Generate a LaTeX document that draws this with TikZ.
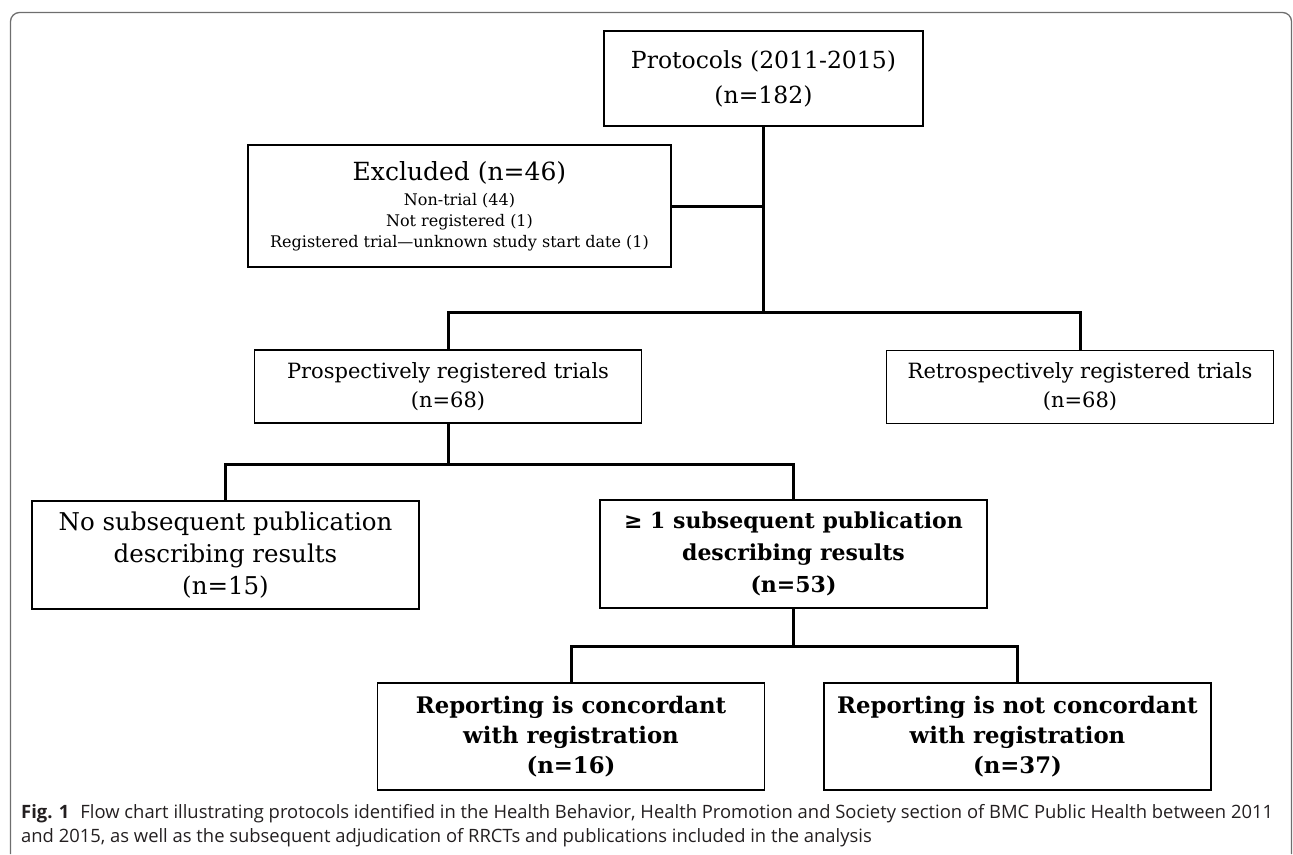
\documentclass[tikz,border=0pt]{standalone}
\usepackage{fontspec}
\setmainfont{DejaVu Serif}
\newfontfamily\capfont{Open Sans}
\definecolor{framegray}{HTML}{6E6E6E}
\definecolor{captext}{HTML}{231F20}
\begin{document}
\begin{tikzpicture}[x=1pt,y=-1pt,
    flowbox/.style={draw, line width=1.8pt, align=center, inner sep=0pt, font=\fontsize{21}{29}\selectfont},
    boldbox/.style={flowbox, font=\fontsize{22}{32}\selectfont\bfseries},
    elbow/.style={line width=3pt},
    frameline/.style={draw=framegray, line width=1.3pt, rounded corners=9pt},
    captionline/.style={anchor=base west, inner sep=0pt, text=captext, font=\capfont\fontsize{18.4}{24}\selectfont}]
    		\newcommand{\colw}{387} % width of the lower boxes
    		\newcommand{\barA}{312}
    		\newcommand{\barB}{464}
    		\newcommand{\barC}{646}

    		\useasboundingbox (0,0) rectangle (1293,854);

    		% outer frame
    		\draw[frameline] (10.5,854) -- (10.5,12.5) -- (1291.5,12.5) -- (1291.5,854);

    		% boxes
    		\node[flowbox, minimum width=319, minimum height=95, font=\fontsize{23.5}{35}\selectfont] (proto) at (763.5,78.5)
    		    {Protocols (2011-2015)\\(n=182)};
    		\node[flowbox, minimum width=423, minimum height=122, font=\fontsize{16}{21}\selectfont] (excl) at (459.5,206)
    		    {{\fontsize{25}{25}\selectfont Excluded (n=46)}\\[4pt]
    		     Non-trial (44)\\Not registered (1)\\Registered trial---unknown study start date (1)};
    		\node[flowbox, minimum width=\colw, minimum height=73] (prosp) at (448,386.5)
    		    {Prospectively registered trials\\(n=68)};
    		\node[flowbox, minimum width=\colw, minimum height=73] (retro) at (1080,387)
    		    {Retrospectively registered trials\\(n=68)};
    		\node[flowbox, minimum width=\colw, minimum height=108, font=\fontsize{24.5}{32}\selectfont] (nopub) at (225.5,555)
    		    {No subsequent publication\\describing results\\(n=15)};
    		\node[boldbox, minimum width=\colw, minimum height=108] (pub) at (793.5,554)
    		    {≥ 1 subsequent publication\\describing results\\(n=53)};
    		\node[boldbox, minimum width=\colw, minimum height=107, font=\fontsize{22.8}{30}\selectfont\bfseries] (conc) at (571,736.5)
    		    {Reporting is concordant\\with registration\\(n=16)};
    		\node[boldbox, minimum width=\colw, minimum height=107, font=\fontsize{22.8}{30}\selectfont\bfseries] (notconc) at (1017.5,736.5)
    		    {Reporting is not concordant\\with registration\\(n=37)};

    		% branch points
    		\coordinate (splitA) at (proto.south |- 0,\barA);
    		\coordinate (splitB) at (prosp.south |- 0,\barB);
    		\coordinate (splitC) at (pub.south |- 0,\barC);

    		% connectors
    		\draw[elbow] (proto.south) -- (splitA);
    		\draw[elbow] (excl.east) -- (excl.east -| splitA);
    		\draw[elbow] (prosp.north) |- (splitA) -| (retro.north);
    		\draw[elbow] (prosp.south) -- (splitB);
    		\draw[elbow] (nopub.north) |- (splitB) -| (pub.north);
    		\draw[elbow] (pub.south) -- (splitC);
    		\draw[elbow] (conc.north) |- (splitC) -| (notconc.north);

    		% caption
    		\node[captionline] (capA) at (21,818) {\textbf{Fig. 1}\hspace{0.6em}Flow chart illustrating protocols identified in the Health Behavior, Health Promotion and Society section of BMC Public Health between 2011};
    		\node[captionline] (capB) at (21,842) {and 2015, as well as the subsequent adjudication of RRCTs and publications included in the analysis};
\end{tikzpicture}
\end{document}
